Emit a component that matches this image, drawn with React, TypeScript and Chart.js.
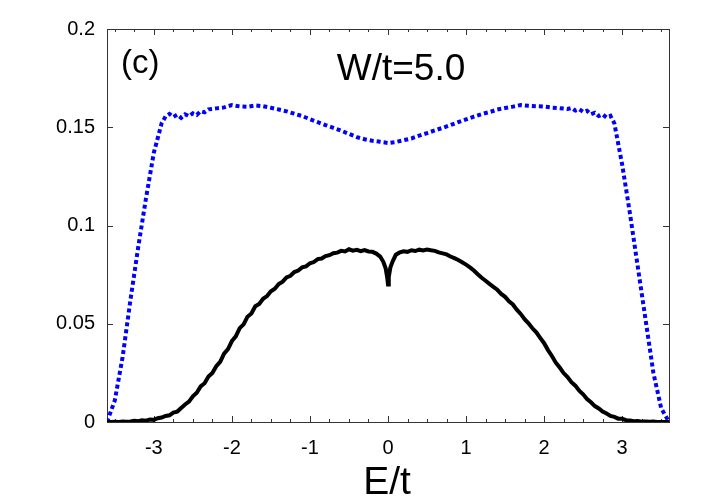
import React, { useEffect, useRef } from "react";
import { Chart, registerables } from "chart.js";

Chart.register(...registerables);

// ---- data ----
const energyBlue = [
  -3.6, -3.5, -3.4, -3.3, -3.2, -3.1, -3.0, -2.9, -2.85, -2.8, -2.75, -2.7, -2.65, -2.6, -2.55, -2.5, -2.45, -2.4, -2.35, -2.3, -2.2, -2.1,
  -2.0, -1.9, -1.8, -1.7, -1.6, -1.5, -1.4, -1.3, -1.2, -1.1, -1.0, -0.9, -0.8, -0.7, -0.6, -0.5, -0.4,
  -0.3, -0.2, -0.1, 0.0, 0.1, 0.2, 0.3, 0.4, 0.5, 0.6, 0.7, 0.8, 0.9, 1.0, 1.1, 1.2, 1.3, 1.4, 1.5, 1.6,
  1.7, 1.8, 1.9, 2.0, 2.1, 2.2, 2.3, 2.35, 2.4, 2.45, 2.5, 2.55, 2.6, 2.65, 2.7, 2.75, 2.8, 2.85, 2.9, 3.0, 3.1, 3.2, 3.3, 3.4, 3.5, 3.6,
];
const dosBlue = [
  0.0, 0.011, 0.033, 0.062, 0.089, 0.114, 0.137, 0.152, 0.1555, 0.1568, 0.1552, 0.1564, 0.1548, 0.1566, 0.1556, 0.1571, 0.1563, 0.1582, 0.1576, 0.1591, 0.1596, 0.1601,
  0.1613, 0.1606, 0.1604, 0.1611, 0.1607, 0.1599, 0.159, 0.1581, 0.1569, 0.1557, 0.1541, 0.1526, 0.1511, 0.1497, 0.1483, 0.1466, 0.145,
  0.1439, 0.1431, 0.1426, 0.142, 0.1425, 0.1434, 0.1443, 0.1457, 0.147, 0.1484, 0.1497, 0.1511, 0.1526, 0.154, 0.1554, 0.1567, 0.1577, 0.159, 0.1598, 0.1605,
  0.1613, 0.1609, 0.1607, 0.1605, 0.16, 0.1597, 0.1593, 0.1598, 0.1585, 0.1592, 0.1578, 0.1584, 0.1566, 0.1574, 0.1557, 0.1565, 0.155, 0.1558, 0.152, 0.131, 0.106, 0.079, 0.052, 0.025, 0.007, 0.0,
];

const energyBlack = [
  -3.6, -3.55, -3.5, -3.45, -3.4, -3.35, -3.3, -3.25, -3.2, -3.15, -3.1, -3.05, -3.0, -2.95, -2.9, -2.85, -2.8, -2.75,
  -2.7, -2.65, -2.6, -2.55, -2.5, -2.45, -2.4, -2.35, -2.3, -2.25, -2.2, -2.15, -2.1, -2.05, -2.0, -1.95, -1.9, -1.85,
  -1.8, -1.75, -1.7, -1.65, -1.6, -1.55, -1.5, -1.45, -1.4, -1.35, -1.3, -1.25, -1.2, -1.15, -1.1, -1.05, -1.0, -0.95,
  -0.9, -0.85, -0.8, -0.75, -0.7, -0.65, -0.6, -0.55, -0.5, -0.45, -0.4, -0.35, -0.3, -0.25, -0.2, -0.15, -0.1, -0.06,
  -0.03, -0.01, 0.0, 0.01, 0.03, 0.06, 0.1, 0.15, 0.2, 0.25, 0.3, 0.35, 0.4, 0.45, 0.5, 0.55, 0.6, 0.65, 0.7, 0.75,
  0.8, 0.85, 0.9, 0.95, 1.0, 1.05, 1.1, 1.15, 1.2, 1.25, 1.3, 1.35, 1.4, 1.45, 1.5, 1.55, 1.6, 1.65, 1.7, 1.75,
  1.8, 1.85, 1.9, 1.95, 2.0, 2.05, 2.1, 2.15, 2.2, 2.25, 2.3, 2.35, 2.4, 2.45, 2.5, 2.55, 2.6, 2.65, 2.7, 2.75,
  2.8, 2.85, 2.9, 2.95, 3.0, 3.05, 3.1, 3.15, 3.2, 3.25, 3.3, 3.35, 3.4, 3.45, 3.5, 3.55, 3.6,
];
const dosBlack = [
  0.0, 0.0, 0.0001, 0.0, 0.0002, 0.0001, 0.0003, 0.0006, 0.0004, 0.0009, 0.0007, 0.0013, 0.0011, 0.0019, 0.0023, 0.0031, 0.0034, 0.0048,
  0.0053, 0.0071, 0.0089, 0.0104, 0.0131, 0.0149, 0.0181, 0.0197, 0.0231, 0.0249, 0.0284, 0.0306, 0.0348, 0.0371, 0.0412, 0.0436, 0.0478, 0.0497,
  0.0536, 0.0552, 0.0589, 0.0601, 0.0627, 0.0641, 0.0665, 0.0678, 0.0702, 0.0714, 0.0736, 0.0744, 0.0763, 0.0771, 0.0787, 0.0792, 0.0808, 0.0814,
  0.0829, 0.0832, 0.0844, 0.0849, 0.0859, 0.0862, 0.0871, 0.0868, 0.0879, 0.0872, 0.0876, 0.0869, 0.0875, 0.0868, 0.0866, 0.0857, 0.0842, 0.0815,
  0.0782, 0.0735, 0.07, 0.0738, 0.0786, 0.0818, 0.0851, 0.0863, 0.0869, 0.0866, 0.0874, 0.087, 0.0877, 0.0873, 0.0878, 0.0874, 0.0871, 0.0863, 0.0858, 0.0853,
  0.0842, 0.0834, 0.0824, 0.0813, 0.0801, 0.0787, 0.0771, 0.0752, 0.0734, 0.0719, 0.0703, 0.0688, 0.0673, 0.0652, 0.0637, 0.0614, 0.0598, 0.0572, 0.055, 0.0523,
  0.0502, 0.0477, 0.0456, 0.0428, 0.0401, 0.0366, 0.0336, 0.0302, 0.0277, 0.0249, 0.0229, 0.0203, 0.0185, 0.0159, 0.0141, 0.0117, 0.01, 0.0081, 0.0069, 0.0053,
  0.0043, 0.0031, 0.0026, 0.0017, 0.0016, 0.0009, 0.0008, 0.0004, 0.0005, 0.0002, 0.0003, 0.0001, 0.0002, 0.0, 0.0, 0.0, 0.0,
];

const xTickValues = [-3, -2, -1, 0, 1, 2, 3];
const yTickValues = [0, 0.05, 0.1, 0.15, 0.2];
const panelLabel = "(c)";
const titleText = "W/t=5.0";
const xAxisLabel = "E/t";

const FONT = "'Liberation Sans', Arial, Helvetica, sans-serif";

const framePlugin = {
  id: "gnuplotFrame",
  beforeDatasetsDraw(chart: any) {
    const { ctx, chartArea } = chart;
    const { left, right, top, bottom } = chartArea;
    const xs = chart.scales.x;
    const ys = chart.scales.y;
    ctx.save();
    ctx.strokeStyle = "#333";
    ctx.lineWidth = 1;
    ctx.beginPath();
    for (let i = -14; i <= 14; i++) {
      const v = i * 0.25;
      if (v < xs.min || v > xs.max) continue;
      const isMajor = Math.abs(v - Math.round(v)) < 1e-9;
      const len = isMajor ? 6 : 3;
      const px = Math.round(xs.getPixelForValue(v)) + 0.5;
      ctx.moveTo(px, bottom);
      ctx.lineTo(px, bottom - len);
      ctx.moveTo(px, top);
      ctx.lineTo(px, top + len);
    }
    for (const v of yTickValues) {
      const py = Math.round(ys.getPixelForValue(v)) + 0.5;
      ctx.moveTo(left, py);
      ctx.lineTo(left + 6, py);
      ctx.moveTo(right, py);
      ctx.lineTo(right - 6, py);
    }
    ctx.stroke();
    ctx.strokeRect(Math.round(left) + 0.5, Math.round(top) + 0.5, Math.round(right - left), Math.round(bottom - top));
    ctx.restore();
  },
  afterDraw(chart: any) {
    const { ctx } = chart;
    ctx.save();
    ctx.fillStyle = "#000";
    ctx.textBaseline = "alphabetic";
    ctx.textAlign = "left";
    ctx.font = `33px ${FONT}`;
    ctx.fillText(panelLabel, 121, 73);
    ctx.textAlign = "center";
    ctx.font = `37px ${FONT}`;
    ctx.fillText(titleText, 401, 80);
    ctx.font = `39px ${FONT}`;
    ctx.fillText(xAxisLabel, 387, 494);
    ctx.restore();
  },
};

export default function App() {
  const ref = useRef<HTMLCanvasElement | null>(null);
  useEffect(() => {
    document.body.style.margin = "0";
    const canvas = ref.current!;
    const chart = new Chart(canvas, {
      type: "line",
      data: {
        datasets: [
          {
            label: "typical",
            data: energyBlack.map((e, i) => ({ x: e, y: dosBlack[i] })),
            borderColor: "#000",
            borderWidth: 4,
            pointRadius: 0,
            tension: 0,
            fill: false,
          },
          {
            label: "average",
            data: energyBlue.map((e, i) => ({ x: e, y: dosBlue[i] })),
            borderColor: "#0000ff",
            borderWidth: 4,
            borderDash: [4, 3],
            pointRadius: 0,
            tension: 0,
            fill: false,
          },
        ],
      },
      plugins: [framePlugin],
      options: {
        responsive: false,
        animation: false,
        devicePixelRatio: 1,
        layout: { padding: { top: 29, right: 43, left: 0, bottom: 0 } },
        plugins: { legend: { display: false }, tooltip: { enabled: false } },
        scales: {
          x: {
            type: "linear",
            min: -3.6,
            max: 3.6,
            afterBuildTicks: (s: any) => {
              s.ticks = xTickValues.map((v) => ({ value: v }));
            },
            afterFit: (s: any) => {
              s.height = 498 - 422;
            },
            ticks: {
              font: { family: FONT, size: 20 },
              color: "#000",
              padding: 14,
              maxRotation: 0,
              autoSkip: false,
              callback: (v: any) => String(v),
            },
            grid: { display: false, drawTicks: false },
            border: { display: false },
          },
          y: {
            type: "linear",
            min: 0,
            max: 0.2,
            afterBuildTicks: (s: any) => {
              s.ticks = yTickValues.map((v) => ({ value: v }));
            },
            afterFit: (s: any) => {
              s.width = 107;
            },
            ticks: {
              font: { family: FONT, size: 20 },
              color: "#000",
              padding: 12,
              callback: (v: any) => String(v),
            },
            grid: { display: false, drawTicks: false },
            border: { display: false },
          },
        },
      },
    } as any);
    return () => chart.destroy();
  }, []);
  return (
    <div style={{ position: "absolute", left: 0, top: 0, width: 712, height: 498, background: "#fff" }}>
      <canvas ref={ref} width={712} height={498} style={{ display: "block" }} />
    </div>
  );
}
